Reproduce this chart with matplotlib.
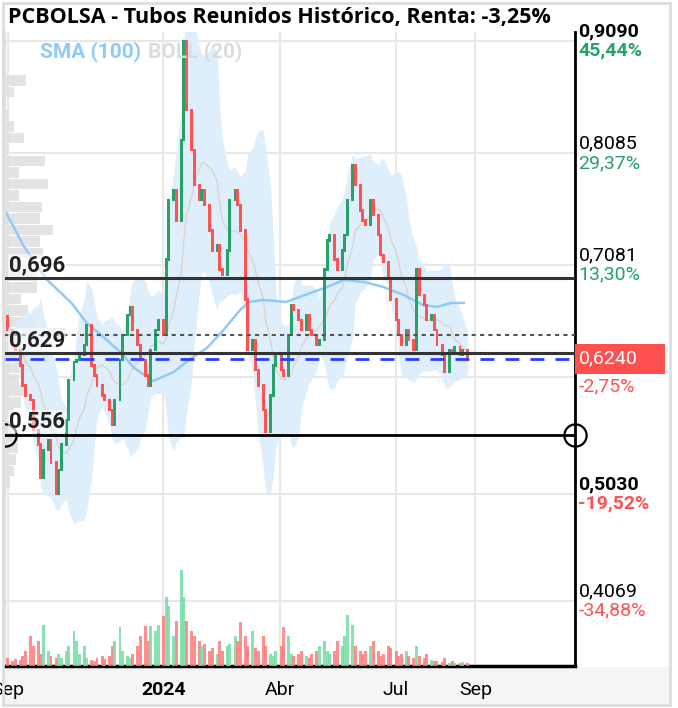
"""PCBOLSA - Tubos Reunidos, velas con SMA, BOLL y volumen"""

import matplotlib
matplotlib.use("Agg")
import matplotlib.pyplot as plt
import matplotlib.dates as mdates
from matplotlib.patches import Rectangle
import numpy as np
import pandas as pd

plt.rcParams['font.family'] = ['Roboto', 'DejaVu Sans']

# sesiones (una vela cada 2 sesiones)
fechas = pd.bdate_range('2023-09-01', periods=129, freq='2B')
apertura0 = 0.662
cierres = [
    0.650, 0.636, 0.632, 0.618, 0.600, 0.591, 0.587, 0.560, 0.547, 0.517,
    0.542, 0.551, 0.531, 0.503, 0.524, 0.547, 0.569, 0.605, 0.621, 0.623,
    0.627, 0.636, 0.654, 0.618, 0.609, 0.600, 0.591, 0.587, 0.578, 0.565,
    0.587, 0.623, 0.645, 0.663, 0.670, 0.650, 0.636, 0.623, 0.609, 0.600,
    0.632, 0.650, 0.659, 0.645, 0.713, 0.766, 0.775, 0.748, 0.820, 0.909,
    0.847, 0.811, 0.780, 0.766, 0.775, 0.762, 0.739, 0.721, 0.726, 0.704,
    0.699, 0.721, 0.766, 0.775, 0.762, 0.739, 0.677, 0.632, 0.641, 0.614,
    0.600, 0.578, 0.558, 0.591, 0.618, 0.627, 0.614, 0.609, 0.645, 0.672,
    0.668, 0.659, 0.650, 0.663, 0.650, 0.645, 0.636, 0.641, 0.704, 0.730,
    0.735, 0.713, 0.704, 0.721, 0.735, 0.766, 0.798, 0.780, 0.757, 0.748,
    0.744, 0.766, 0.753, 0.735, 0.717, 0.711, 0.696, 0.677, 0.659, 0.645,
    0.636, 0.650, 0.641, 0.632, 0.704, 0.681, 0.672, 0.659, 0.663, 0.650,
    0.636, 0.627, 0.612, 0.632, 0.630, 0.634, 0.627, 0.632, 0.624,
]
volumen = [
    8, 5, 7, 6, 10, 15, 30, 20, 25, 12,
    41, 15, 10, 8, 12, 8, 15, 20, 35, 25,
    12, 20, 8, 6, 5, 8, 10, 7, 10, 20,
    25, 39, 15, 10, 8, 12, 20, 30, 40, 25,
    40, 35, 41, 50, 69, 60, 30, 45, 96, 69,
    45, 35, 30, 25, 20, 22, 15, 18, 12, 25,
    15, 20, 22, 30, 25, 44, 30, 20, 35, 18,
    15, 30, 20, 12, 10, 15, 20, 39, 30, 12,
    10, 12, 15, 10, 8, 12, 15, 20, 25, 15,
    12, 15, 25, 20, 30, 51, 41, 20, 15, 12,
    15, 20, 25, 15, 10, 12, 20, 18, 15, 10,
    12, 15, 10, 8, 20, 10, 8, 12, 6, 5,
    5, 4, 8, 3, 5, 3, 3, 4, 3,
]

# SMA (100)
sma_fechas = ['2023-08-31', '2023-09-14', '2023-10-02', '2023-10-21', '2023-11-02',
              '2023-11-15', '2023-11-29', '2023-12-09', '2023-12-24', '2024-01-09',
              '2024-01-23', '2024-02-04', '2024-02-17', '2024-03-01', '2024-03-08',
              '2024-03-19', '2024-04-06', '2024-04-25', '2024-05-08', '2024-05-21',
              '2024-06-06', '2024-06-21', '2024-07-07', '2024-07-22', '2024-08-02',
              '2024-08-13', '2024-08-23']
sma_valores = [0.7547, 0.7242, 0.6946, 0.6740, 0.6560, 0.6435, 0.6291, 0.6157, 0.6040,
               0.6121, 0.6246, 0.6336, 0.6497, 0.6677, 0.6749, 0.6767, 0.6749, 0.6829,
               0.6883, 0.6946, 0.6928, 0.6883, 0.6812, 0.6722, 0.6704, 0.6740, 0.6740]

# perfil de volumen por precio (de arriba a abajo)
perfil_arriba = 0.8785
perfil_paso = 0.0103
perfil = [20, 8, 0, 3, 8, 18, 3, 38, 13, 40, 13, 35, 33, 45, 33, 36, 15, 30,
          30, 15, 22, 28, 57, 25, 40, 25, 13, 18, 15, 8, 8, 12, 12, 10, 8, 5]

niveles = [0.696, 0.629, 0.556]
nivel_txt = ['0,696', '0,629', '0,556']
cierre_previo = 0.6453
ultimo = 0.624

# el 0,6077 queda tapado por la caja del ultimo precio
ticks_precio = [0.9090, 0.8085, 0.7081, 0.6077, 0.5030, 0.4069]
ticks_txt = ['0,9090', '0,8085', '0,7081', '', '0,5030', '0,4069']
ticks_pct = ['45,44%', '29,37%', '13,30%', '-2,75%', '-19,52%', '-34,88%']
ticks_negrita = [True, False, False, False, True, False]

meses = ['2023-09-01', '2024-01-01', '2024-04-01', '2024-07-01', '2024-09-01']
meses_txt = ['Sep', '2024', 'Abr', 'Jul', 'Sep']

VERDE = '#27a06a'
ROJO = '#ff5252'

W, H = 678, 708
fig = plt.figure(figsize=(W / 100, H / 100), dpi=100)
ax = fig.add_axes([5 / W, 1 - 666 / H, 570 / W, 634 / H])

x0 = pd.Timestamp('2023-08-30')
x1 = pd.Timestamp('2024-11-18')
ax.set_xlim(x0, x1)
ax.set_ylim(0.3484, 0.9170)

cierres = np.array(cierres)
aperturas = np.r_[apertura0, cierres[:-1]]
sube = cierres >= aperturas
colores = np.where(sube, VERDE, ROJO)

# rejilla
ax.set_yticks(ticks_precio)
ax.set_xticks(pd.to_datetime(meses))
ax.grid(True, color='#e8e8e8', linewidth=1.5, linestyle='-')
ax.set_axisbelow(True)
ax.tick_params(axis='y', length=0, labelleft=False)
ax.tick_params(axis='x', length=0, pad=11, labelsize=14)
ax.set_xticklabels(meses_txt)
ax.get_xticklabels()[1].set_fontweight('bold')

# perfil de volumen
centros = perfil_arriba - perfil_paso * (np.arange(len(perfil)) + 0.5)
ax.barh(centros, np.array(perfil) / 1.2, left=mdates.date2num(x0),
        height=perfil_paso * 0.92, color='#e0e0e0', alpha=0.9, zorder=0.6)

# bandas de bollinger (20 sesiones = 10 velas)
s = pd.Series(cierres, index=fechas)
media = s.rolling(10, min_periods=3).mean()
desv = s.rolling(10, min_periods=3).std()
ax.fill_between(fechas, media + 2 * desv, media - 2 * desv, color='#dcedfb',
                alpha=0.9, linewidth=0, zorder=0.8)
ax.plot(fechas, media, color='#dcd3cd', linewidth=1, zorder=0.9)

# sma 100
ax.plot(pd.to_datetime(sma_fechas), sma_valores, color='#90caf9', linewidth=1.8, zorder=1.5)

# velas
ax.bar(fechas, np.abs(cierres - aperturas) + 0.002, bottom=np.minimum(cierres, aperturas) - 0.001,
       width=2.3, color=colores, linewidth=0, zorder=2)

# lineas horizontales
ax.axhline(niveles[0], color='#333333', linewidth=2.2, zorder=3)
ax.axhline(niveles[1], color='#333333', linewidth=2.2, zorder=3)
ax.axhline(niveles[2], color='black', linewidth=2, zorder=3)
ax.axhline(cierre_previo, color='#555555', linewidth=1.5, linestyle=(0, (2, 2)), zorder=3)
ax.axhline(ultimo, color='#2a3cff', linewidth=2, linestyle=(0, (5, 4)), zorder=3)
ax.plot([x0], [niveles[2]], 'o', ms=16, mfc='none', mec='black', mew=1.6, zorder=4)
ax.plot([x1], [niveles[2]], 'o', ms=16, mfc='none', mec='black', mew=1.6, zorder=4, clip_on=False)

for v, t in zip(niveles, nivel_txt):
    ax.text(pd.Timestamp('2023-09-02'), v + 0.002, t, fontsize=16, fontweight='bold',
            color='#222222', va='bottom', ha='left', zorder=5,
            bbox=dict(facecolor='white', alpha=0.55, edgecolor='none', pad=0.5))

# eje de precios a la derecha
tr = ax.get_yaxis_transform()
for p, t, pc, b in zip(ticks_precio, ticks_txt, ticks_pct, ticks_negrita):
    peso = 'bold' if b else 'normal'
    col = VERDE if not pc.startswith('-') else ROJO
    if t:
        ax.text(1.006, p + 0.0005, t, transform=tr, fontsize=14, fontweight=peso,
                color='black', va='bottom', ha='left', clip_on=False)
    ax.text(1.006, p - 0.0008, pc, transform=tr, fontsize=14, fontweight=peso,
            color=col, va='top', ha='left', clip_on=False)

ax.add_patch(Rectangle((1.0, ultimo - 0.0135), 90 / 570, 0.027, transform=tr,
                       facecolor='#ff5050', edgecolor='none', clip_on=False, zorder=6))
ax.text(1.006, ultimo, '0,6240', transform=tr, fontsize=14, color='white',
        va='center', ha='left', clip_on=False, zorder=7)

ax.spines['top'].set_visible(False)
ax.spines['left'].set_color('#e0e0e0')
ax.spines['left'].set_linewidth(1.5)
ax.spines['bottom'].set_color('black')
ax.spines['bottom'].set_linewidth(2.5)
ax.spines['right'].set_color('black')
ax.spines['right'].set_linewidth(2)

# volumen
axv = ax.twinx()
axv.bar(fechas, volumen, width=2.3, color=np.where(sube, '#72dca3', '#ff7a7a'),
        alpha=0.85, linewidth=0)
axv.set_ylim(0, max(volumen) * 634 / 96)
axv.set_yticks([])
for sp in axv.spines.values():
    sp.set_visible(False)

# fondo inferior y marco
fig.patches.append(Rectangle((3 / W, 3 / H), 667 / W, 38 / H, transform=fig.transFigure,
                             facecolor='#f5f5f5', edgecolor='none', zorder=-1))
fig.patches.append(Rectangle((3 / W, 3 / H), 667 / W, 702 / H, transform=fig.transFigure,
                             facecolor='none', edgecolor='#dddddd', linewidth=2, zorder=10))

fig.text(8 / W, 1 - 18 / H, 'PCBOLSA - Tubos Reunidos Histórico, Renta: -3,25%',
         fontsize=15.5, fontweight='bold', family=['Open Sans', 'DejaVu Sans'],
         va='center', ha='left', color='black')
fig.text(40 / W, 1 - 52 / H, 'SMA (100)', fontsize=15, fontweight='bold',
         color='#90caf9', va='center', ha='left')
fig.text(148 / W, 1 - 52 / H, 'BOLL (20)', fontsize=15, fontweight='bold',
         color='#dcdcdc', va='center', ha='left')

fig.savefig('out.png', dpi=100)
